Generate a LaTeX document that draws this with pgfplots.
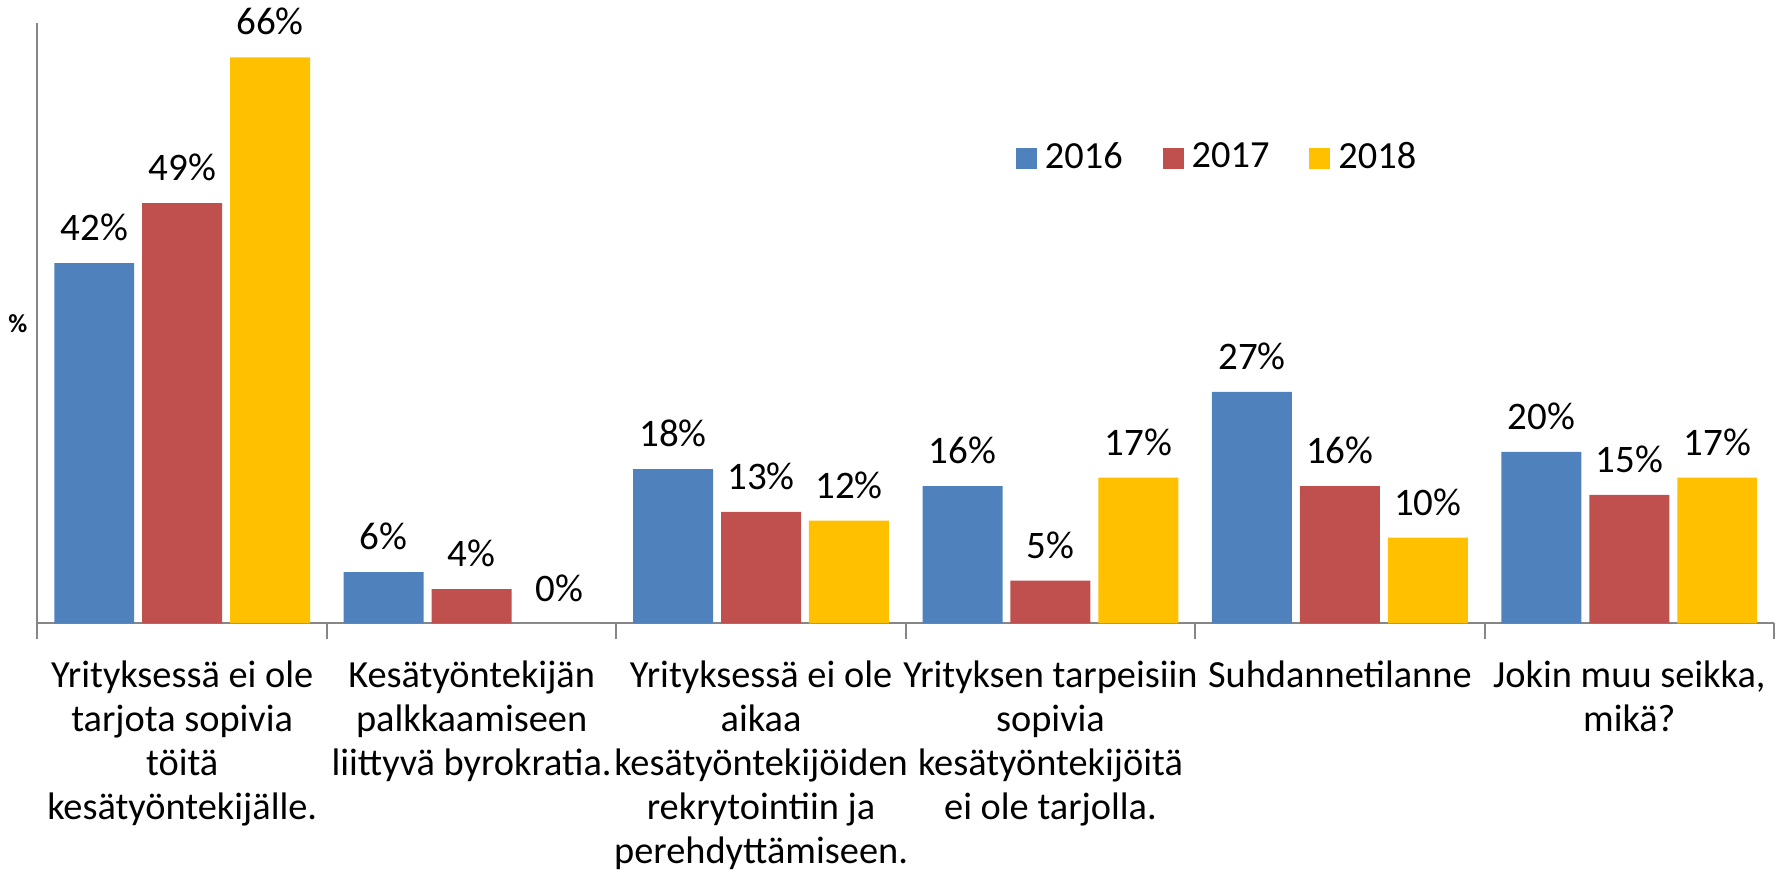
\documentclass[border=0pt]{standalone}
\usepackage{fontspec}
\setmainfont{Carlito}
\usepackage{pgfplots}
\pgfplotsset{compat=1.18}
\definecolor{c2016}{HTML}{4F81BD}
\definecolor{c2017}{HTML}{C0504D}
\definecolor{c2018}{HTML}{FFC000}
\definecolor{axisgray}{HTML}{868686}

\begin{document}
\begin{tikzpicture}
\begin{axis}[
    width=434.5pt, height=150.25pt, scale only axis,
    ymin=0, ymax=70, xmin=-0.5, xmax=5.5,
    ybar=2pt, bar width=20pt,
    axis x line=bottom, axis y line=left,
    axis line style={-, draw=axisgray, line width=0.5pt},
    ytick=\empty,
    xtick={0,1,2,3,4,5},
    major x tick style={draw=none},
    minor xtick={-0.5,0.5,1.5,2.5,3.5,4.5,5.5},
    tick align=outside,
    minor tick length=4pt,
    minor x tick style={draw=axisgray, line width=0.5pt},
    xticklabels={
        {Yrityksessä ei ole\\tarjota sopivia\\töitä\\kesätyöntekijälle.},
        {Kesätyöntekijän\\palkkaamiseen\\liittyvä byrokratia.},
        {Yrityksessä ei ole\\aikaa\\kesätyöntekijöiden\\rekrytointiin ja\\perehdyttämiseen.},
        {Yrityksen tarpeisiin\\sopivia\\kesätyöntekijöitä\\ei ole tarjolla.},
        {Suhdannetilanne},
        {Jokin muu seikka,\\mikä?}},
    xticklabel style={align=center, anchor=north, yshift=-1.5pt,
        font=\fontsize{9.6}{11}\selectfont},
    ylabel={\%},
    ylabel style={rotate=-90, at={(rel axis cs:0,0.5)}, anchor=center,
        xshift=-4.9pt, font=\fontsize{6.5}{8}\selectfont\bfseries},
    nodes near coords={\pgfmathprintnumber{\pgfplotspointmeta}\%},
    nodes near coords style={font=\fontsize{9.75}{11}\selectfont, text=black, yshift=2pt},
    /pgf/number format/assume math mode=true,
    legend columns=3,
    legend style={draw=none, at={(0.681,0.775)}, anchor=center,
        font=\fontsize{9.6}{11}\selectfont,
        /tikz/every even column/.append style={column sep=8pt}},
    legend image code/.code={\fill[#1] (0pt,-2.6pt) rectangle (5.25pt,2.65pt);},
]
\addplot[fill=c2016, draw=none] coordinates {(0,42) (1,6) (2,18) (3,16) (4,27) (5,20)};
\addlegendentry{2016}
\addplot[fill=c2017, draw=none] coordinates {(0,49) (1,4) (2,13) (3,5) (4,16) (5,15)};
\addlegendentry{2017}
\addplot[fill=c2018, draw=none] coordinates {(0,66) (1,0) (2,12) (3,17) (4,10) (5,17)};
\addlegendentry{2018}
\end{axis}
\pgfresetboundingbox
\path[use as bounding box] ([shift={(-9.375pt,-62.35pt)}]current axis.south west)
    rectangle ([shift={(1.75pt,5.75pt)}]current axis.north east);
\end{tikzpicture}
\end{document}
